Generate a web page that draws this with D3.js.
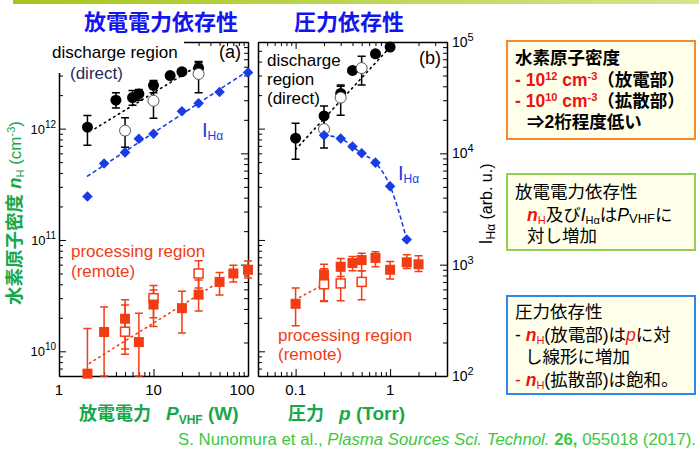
<!DOCTYPE html>
<html>
<head>
<meta charset="utf-8">
<style>
body { margin: 0; background: #fff; }
svg { display: block; }
text { font-family: "Liberation Sans", Arial, "Noto Sans CJK JP", sans-serif; }
.axis path, .axis line { stroke: #000; }
.axis path { stroke-width: 1.5px; }
.axis line { stroke-width: 1px; }
</style>
</head>
<body>
<script src="https://cdn.jsdelivr.net/npm/d3@7"></script>
<script>

// ---- panel (a): H density vs VHF power ----
var aDisP  = [2, 4, 6, 7, 10, 15, 20, 30];
var aDisN  = [1.03e12, 1.8e12, 1.9e12, 2.05e12, 2.45e12, 3.0e12, 3.25e12, 3.5e12];
var aDisLo = [7.1e11, 1.53e12, 1.62e12, 1.8e12, 2.1e12, 2.85e12, 3.1e12, 3.2e12];
var aDisHi = [1.31e12, 2.1e12, 2.2e12, 2.25e12, 2.7e12, 3.15e12, 3.4e12, 4.0e12];

var aDisOpenP  = [5, 10, 30];
var aDisOpenN  = [9.6e11, 1.78e12, 3.1e12];
var aDisOpenLo = [6.8e11, 1.24e12, 2.1e12];
var aDisOpenHi = [1.25e12, 2.3e12, 3.9e12];

var aIP = [2, 3, 5, 7, 10, 20, 30, 50, 100];
var aI  = [4100, 8100, 10200, 13500, 15000, 23900, 28200, 35500, 53300];

var aRemP  = [2, 3, 5, 7, 10, 20, 30, 50, 70, 100];
var aRemN  = [6.3e9, 1.49e10, 1.96e10, 1.21e10, 2.63e10, 2.44e10, 3.23e10, 4.2e10, 5.0e10, 5.4e10];
var aRemLo = [6e9, 6e9, 1.05e10, 6e9, 1.67e10, 1.46e10, 2.3e10, 3.2e10, 4.2e10, 4.55e10];
var aRemHi = [1.6e10, 2.5e10, 2.9e10, 2.2e10, 3.55e10, 3.46e10, 4.37e10, 5.1e10, 5.94e10, 6.47e10];

var aRemOpenP  = [5, 10, 30];
var aRemOpenN  = [1.5e10, 3.0e10, 5.0e10];
var aRemOpenLo = [9.4e9, 2.0e10, 3.7e10];
var aRemOpenHi = [2.6e10, 3.9e10, 6.5e10];

var aDisFitP = [2.4, 33],  aDisFitN = [1.0e12, 3.9e12];
var aIFitP   = [2, 100],   aIFit    = [6240, 55100];
var aRemFitP = [2.1, 43],  aRemFitN = [7.8e9, 3.9e10];

// ---- panel (b): vs pressure ----
var bDisP  = [0.1, 0.2, 0.3, 0.4, 0.7, 1.0];
var bDisN  = [8.2e11, 1.3e12, 2.07e12, 3.33e12, 4.7e12, 5.4e12];
var bDisLo = [5.3e11, 1.05e12, 1.85e12, null, null, null];
var bDisHi = [1.12e12, 1.6e12, 2.4e12, null, null, null];

var bDisOpenP  = [0.2, 0.3, 0.5];
var bDisOpenN  = [9.9e11, 1.9e12, 3.5e12];
var bDisOpenLo = [6.7e11, 1.32e12, 2.46e12];
var bDisOpenHi = [1.26e12, 2.46e12, 4.47e12];

var bIP = [0.2, 0.3, 0.4, 0.5, 0.7, 1.0, 1.5];
var bI  = [14500, 13600, 11500, 10000, 8250, 5070, 1680];

var bRemP  = [0.1, 0.2, 0.3, 0.4, 0.5, 0.7, 1.0, 1.5, 2.0];
var bRemN  = [2.67e10, 4.9e10, 5.75e10, 6.2e10, 6.6e10, 6.9e10, 5.4e10, 6.3e10, 6.05e10];
var bRemLo = [1.7e10, 2.85e10, 4.7e10, 5.3e10, 5.3e10, 5.75e10, 4.46e10, 5.55e10, 5.2e10];
var bRemHi = [3.7e10, 6.05e10, 6.8e10, 7.1e10, 7.6e10, 7.85e10, 6.4e10, 7.35e10, 7.2e10];

var bRemOpenP  = [0.2, 0.3, 0.5];
var bRemOpenN  = [4.0e10, 4.07e10, 4.2e10];
var bRemOpenLo = [2.8e10, 2.85e10, 2.9e10];
var bRemOpenHi = [5.5e10, 5.3e10, 5.3e10];

var bDisFitP = [0.1, 1.04],  bDisFitN = [6.5e11, 5.6e12];
var bRemFitP = [0.11, 0.19], bRemFitN = [3.05e10, 3.9e10];

var nTicks = [1e10, 1e11, 1e12];
var iTicks = [1e2, 1e3, 1e4, 1e5];

var RED = "#f23c14", BLUE = "#1a3ce6", GREEN = "#16a84a";

var svg = d3.select("body").append("svg")
    .attr("width", 699)
    .attr("height", 450);

// top bar
var grad = svg.append("defs").append("linearGradient").attr("id", "topbar");
grad.append("stop").attr("offset", "0%").attr("stop-color", "#a6c61c");
grad.append("stop").attr("offset", "100%").attr("stop-color", "#d4e68a");
svg.append("rect").attr("x", 13).attr("y", 0).attr("width", 686).attr("height", 4)
    .attr("fill", "url(#topbar)");

var yN = d3.scaleLog().domain([6e9, 6e12]).range([376, 42]);
var yI = d3.scaleLog().domain([1e2, 1e5]).range([376, 42]);
var xP = d3.scaleLog().domain([1, 100]).range([59, 248]);
var xp = d3.scaleLog().domain([0.04, 4]).range([258, 447]);

function isMajor(v) {
  var l = Math.log10(v);
  return Math.abs(l - Math.round(l)) < 1e-6;
}

// text with sub / superscript parts
function rich(parent, x, y, parts, base) {
  var t = parent.append("text").attr("x", x).attr("y", y)
      .style("font-size", (base || 15) + "px");
  var shift = 0;
  parts.forEach(function(p) {
    var want = p.sup ? -p.sup : (p.sub ? p.sub : 0);
    var ts = t.append("tspan").text(p.t);
    if (want != shift) ts.attr("dy", want - shift);
    shift = want;
    if (p.fill) ts.attr("fill", p.fill);
    if (p.size) ts.style("font-size", p.size + "px");
    if (p.bold) ts.style("font-weight", "bold");
    if (p.it) ts.style("font-style", "italic");
    if (p.dx) ts.attr("dx", p.dx);
  });
  return t;
}

function frame(x, yL, yR) {
  var g = svg.append("g").attr("class", "axis");
  var x0 = x.range()[0], x1 = x.range()[1];
  var bottom = g.append("g").attr("transform", "translate(0,376)")
      .call(d3.axisBottom(x).tickValues(x.ticks()).tickSizeInner(-4).tickSizeOuter(0).tickFormat(""));
  bottom.selectAll(".tick line").attr("y2", function(d) { return isMajor(d) ? -7 : -4; });
  var top = g.append("g").attr("transform", "translate(0,42)")
      .call(d3.axisTop(x).tickValues(x.ticks()).tickSizeInner(-4).tickSizeOuter(0).tickFormat(""));
  top.selectAll(".tick line").attr("y2", function(d) { return isMajor(d) ? 7 : 4; });
  var left = g.append("g").attr("transform", "translate(" + x0 + ",0)")
      .call(d3.axisLeft(yL).tickValues(yL.ticks()).tickSizeInner(-4).tickSizeOuter(0).tickFormat(""));
  left.selectAll(".tick line").attr("x2", function(d) { return isMajor(d) ? 7 : 4; });
  var right = g.append("g").attr("transform", "translate(" + x1 + ",0)")
      .call(d3.axisRight(yR).tickValues(yR.ticks()).tickSizeInner(-4).tickSizeOuter(0).tickFormat(""));
  right.selectAll(".tick line").attr("x2", function(d) { return isMajor(d) ? -7 : -4; });
  g.selectAll(".domain").attr("fill", "none");
}

function fitLine(x, y, xs, ys, color, dash, curve) {
  var line = d3.line()
      .x(function(d) { return x(d[0]); })
      .y(function(d) { return y(d[1]); })
      .curve(curve || d3.curveLinear);
  svg.append("path").datum(d3.zip(xs, ys))
      .attr("d", line)
      .attr("fill", "none")
      .attr("stroke", color)
      .attr("stroke-width", 1.6)
      .attr("stroke-linecap", "round")
      .attr("stroke-dasharray", dash);
}

function errBars(x, y, xs, lo, hi, color) {
  var idx = d3.range(xs.length).filter(function(i) { return lo[i] != null; });
  svg.append("g").selectAll("path").data(idx).enter().append("path")
      .attr("d", function(i) {
        var cx = x(xs[i]), a = y(hi[i]), b = y(lo[i]);
        return "M" + cx + "," + a + "V" + b +
               "M" + (cx - 4) + "," + a + "h8" +
               "M" + (cx - 4) + "," + b + "h8";
      })
      .attr("fill", "none")
      .attr("stroke", color)
      .attr("stroke-width", 1.5);
}

function marks(x, y, xs, ys, kind) {
  var g = svg.append("g");
  var pts = d3.zip(xs, ys);
  if (kind == "dot" || kind == "ring") {
    g.selectAll("circle").data(pts).enter().append("circle")
        .attr("cx", function(d) { return x(d[0]); })
        .attr("cy", function(d) { return y(d[1]); })
        .attr("r", 5.5)
        .attr("fill", kind == "dot" ? "#000" : "#fff")
        .attr("stroke", kind == "dot" ? "none" : "#555")
        .attr("stroke-width", 1);
  } else if (kind == "diamond") {
    g.selectAll("path").data(pts).enter().append("path")
        .attr("d", d3.symbol().type(d3.symbolSquare).size(56))
        .attr("transform", function(d) { return "translate(" + x(d[0]) + "," + y(d[1]) + ") rotate(45)"; })
        .attr("fill", BLUE);
  } else {
    var s = kind == "sq" ? 10 : 9;
    g.selectAll("rect").data(pts).enter().append("rect")
        .attr("x", function(d) { return x(d[0]) - s / 2; })
        .attr("y", function(d) { return y(d[1]) - s / 2; })
        .attr("width", s).attr("height", s)
        .attr("fill", kind == "sq" ? RED : "#fff")
        .attr("stroke", kind == "sq" ? "none" : RED)
        .attr("stroke-width", 1.5);
  }
}

// titles
svg.append("text").attr("x", 161).attr("y", 30).attr("text-anchor", "middle")
    .style("font-family", "'Noto Sans CJK JP'").style("font-size", "22px").style("font-weight", "bold")
    .attr("fill", "#1414f0").text("放電電力依存性");
svg.append("text").attr("x", 349).attr("y", 30).attr("text-anchor", "middle")
    .style("font-family", "'Noto Sans CJK JP'").style("font-size", "22px").style("font-weight", "bold")
    .attr("fill", "#1414f0").text("圧力依存性");

frame(xP, yN, yI);
frame(xp, yN, yI);

// white backing behind the (a) legend text, covers the corner of the frame
svg.append("rect").attr("x", 45).attr("y", 37).attr("width", 139).attr("height", 36).attr("fill", "#fff");

// tick labels
nTicks.forEach(function(v) {
  rich(svg, 56, yN(v) + 5, [{t: "10"}, {t: String(Math.log10(v)), sup: 6, size: 10}], 13)
      .attr("text-anchor", "end");
});
iTicks.forEach(function(v) {
  rich(svg, 452, yI(v) + 5, [{t: "10"}, {t: String(Math.log10(v)), sup: 6, size: 11}], 14);
});
[1, 10, 100].forEach(function(v) {
  svg.append("text").attr("x", xP(v) - (v == 100 ? 6 : 0)).attr("y", 395)
      .attr("text-anchor", "middle").style("font-size", "15px").text(v);
});
[0.1, 1].forEach(function(v) {
  svg.append("text").attr("x", xp(v)).attr("y", 395)
      .attr("text-anchor", "middle").style("font-size", "15px").text(v);
});

// axis titles
rich(svg, 79, 420, [
  {t: "放電電力", bold: true},
  {t: "P", it: true, bold: true, size: 19, dx: 15},
  {t: "VHF", sub: 4, bold: true, size: 12},
  {t: " (W)", bold: true, size: 19}
], 18).attr("fill", GREEN);
rich(svg, 288, 420, [
  {t: "圧力", bold: true},
  {t: "p", it: true, bold: true, size: 19, dx: 15},
  {t: " (Torr)", bold: true, size: 19}
], 18).attr("fill", GREEN);

rich(svg.append("g").attr("transform", "translate(21,213) rotate(-90)"), 0, 0, [
  {t: "水素原子密度 ", bold: true},
  {t: "n", it: true, bold: true},
  {t: "H", sub: 3, size: 11},
  {t: " (cm", size: 17},
  {t: "-3", sup: 6, size: 11},
  {t: ")", size: 17}
], 18.5).attr("fill", GREEN).attr("text-anchor", "middle");

rich(svg.append("g").attr("transform", "translate(492,204) rotate(-90)"), 0, 0, [
  {t: "I", size: 18},
  {t: "Hα", sub: 3, size: 12},
  {t: " (arb. u.)"}
], 16).attr("text-anchor", "middle");

// in-panel labels (a)
svg.append("text").attr("x", 52).attr("y", 58).style("font-size", "17px").text("discharge region");
svg.append("text").attr("x", 70).attr("y", 79).style("font-size", "17px").attr("fill", "#1f2d5a").text("(direct)");
svg.append("text").attr("x", 241).attr("y", 58).attr("text-anchor", "end").style("font-size", "18px").text("(a)");
rich(svg, 202, 137, [{t: "I", size: 20}, {t: "Hα", sub: 3, size: 12}], 15).attr("fill", BLUE);
svg.append("text").attr("x", 71).attr("y", 257).style("font-size", "17px").attr("fill", RED).text("processing region");
svg.append("text").attr("x", 71).attr("y", 277).style("font-size", "17px").attr("fill", RED).text("(remote)");

// in-panel labels (b)
svg.append("text").attr("x", 267).attr("y", 66).style("font-size", "17px").text("discharge");
svg.append("text").attr("x", 267).attr("y", 85).style("font-size", "17px").text("region");
svg.append("text").attr("x", 267).attr("y", 104).style("font-size", "17px").text("(direct)");
svg.append("text").attr("x", 441).attr("y", 64).attr("text-anchor", "end").style("font-size", "18px").text("(b)");
rich(svg, 398, 180, [{t: "I", size: 20}, {t: "Hα", sub: 3, size: 12}], 15).attr("fill", BLUE);
svg.append("text").attr("x", 278).attr("y", 341).style("font-size", "17px").attr("fill", RED).text("processing region");
svg.append("text").attr("x", 278).attr("y", 360).style("font-size", "17px").attr("fill", RED).text("(remote)");

// panel (a) data
fitLine(xP, yI, aIFitP, aIFit, BLUE, "3,4");
fitLine(xP, yN, aDisFitP, aDisFitN, "#000", "1.5,4");
fitLine(xP, yN, aRemFitP, aRemFitN, RED, "1.5,4");
errBars(xP, yN, aDisP, aDisLo, aDisHi, "#000");
errBars(xP, yN, aDisOpenP, aDisOpenLo, aDisOpenHi, "#000");
errBars(xP, yN, aRemOpenP, aRemOpenLo, aRemOpenHi, RED);
errBars(xP, yN, aRemP, aRemLo, aRemHi, RED);
marks(xP, yN, aDisP, aDisN, "dot");
marks(xP, yN, aDisOpenP, aDisOpenN, "ring");
marks(xP, yN, aRemOpenP, aRemOpenN, "osq");
marks(xP, yN, aRemP, aRemN, "sq");
marks(xP, yI, aIP, aI, "diamond");

// panel (b) data
fitLine(xp, yI, bIP, bI, BLUE, "3,4", d3.curveMonotoneX);
fitLine(xp, yN, bDisFitP, bDisFitN, "#000", "1.5,4");
fitLine(xp, yN, bRemFitP, bRemFitN, RED, "1.5,4");
errBars(xp, yN, bDisP, bDisLo, bDisHi, "#000");
errBars(xp, yN, bDisOpenP, bDisOpenLo, bDisOpenHi, "#000");
errBars(xp, yN, bRemOpenP, bRemOpenLo, bRemOpenHi, RED);
errBars(xp, yN, bRemP, bRemLo, bRemHi, RED);
marks(xp, yN, bDisP, bDisN, "dot");
marks(xp, yN, bDisOpenP, bDisOpenN, "ring");
marks(xp, yN, bRemOpenP, bRemOpenN, "osq");
marks(xp, yN, bRemP, bRemN, "sq");
marks(xp, yI, bIP, bI, "diamond");

// side boxes
function box(y, h, color) {
  svg.append("rect").attr("x", 507).attr("y", y).attr("width", 188).attr("height", h)
      .attr("fill", "#ffffea").attr("stroke", color).attr("stroke-width", 2);
}
box(41, 98, "#f7892c");
box(174, 76, "#92d050");
box(296, 98, "#2f86f0");

var R = "#ee1111", FS = 17.5;
rich(svg, 515, 64, [{t: "水素原子密度", bold: true}], FS);
rich(svg, 515, 86, [
  {t: "- 10", fill: R, bold: true}, {t: "12", sup: 6, size: 11, fill: R, bold: true},
  {t: " cm", fill: R, bold: true}, {t: "-3", sup: 6, size: 11, fill: R, bold: true},
  {t: "（放電部）", bold: true}
], FS);
rich(svg, 515, 107, [
  {t: "- 10", fill: R, bold: true}, {t: "10", sup: 6, size: 11, fill: R, bold: true},
  {t: " cm", fill: R, bold: true}, {t: "-3", sup: 6, size: 11, fill: R, bold: true},
  {t: "（拡散部）", bold: true}
], FS);
rich(svg, 527, 128, [{t: "⇒2桁程度低い", bold: true}], FS);

rich(svg, 515, 198, [{t: "放電電力依存性"}], FS);
rich(svg, 527, 221, [
  {t: "n", fill: R, bold: true, it: true}, {t: "H", sub: 3, size: 11, fill: R},
  {t: "及び"}, {t: "I", it: true}, {t: "Hα", sub: 3, size: 11},
  {t: "は"}, {t: "P", it: true}, {t: "VHF", sub: 2, size: 13}, {t: "に"}
], FS);
rich(svg, 527, 242, [{t: "対し増加"}], FS);

rich(svg, 515, 318, [{t: "圧力依存性"}], FS);
rich(svg, 515, 341, [
  {t: "- "}, {t: "n", fill: R, bold: true, it: true}, {t: "H", sub: 3, size: 11, fill: R},
  {t: "(放電部)は"}, {t: "p", fill: R, it: true}, {t: "に対"}
], FS);
rich(svg, 525, 363, [{t: "し線形に増加"}], FS);
rich(svg, 515, 386, [
  {t: "- ", fill: R}, {t: "n", fill: R, bold: true, it: true}, {t: "H", sub: 3, size: 11, fill: R},
  {t: "(拡散部)は飽和。"}
], FS);

// citation
rich(svg, 178, 445, [
  {t: "S. Nunomura et al., "},
  {t: "Plasma Sources Sci. Technol.", it: true},
  {t: " 26,", bold: true},
  {t: " 055018 (2017)."}
], 16).attr("fill", "#3cc83c").attr("textLength", 518).attr("lengthAdjust", "spacingAndGlyphs");

</script>
</body>
</html>
